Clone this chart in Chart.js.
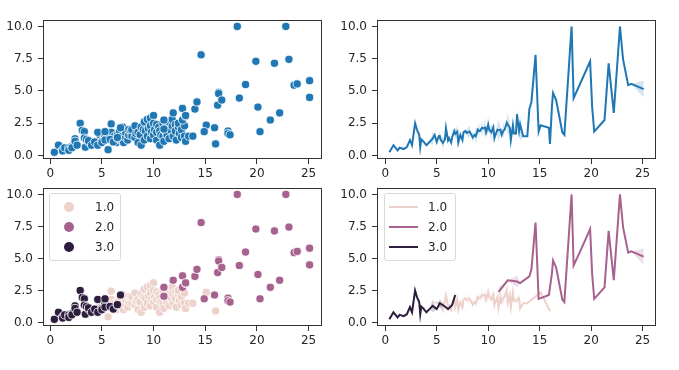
<!DOCTYPE html>
<html>
<head>
<meta charset="utf-8">
<script src="https://cdn.jsdelivr.net/npm/chart.js@4.4.1/dist/chart.umd.min.js"></script>
<style>
body{margin:0;width:679px;height:370px;background:#fff;position:relative;overflow:hidden;font-family:"DejaVu Sans",sans-serif;color:#262626}
canvas{position:absolute}
.legend{position:absolute;background:rgba(255,255,255,0.8);border:1px solid #d9d9d9;border-radius:3px;box-sizing:border-box}
.legend .row{position:absolute;left:0;height:20px;width:100%}
.legend .dot{position:absolute;width:10px;height:10px;border-radius:50%;top:5px;left:14px}
.legend .ln{position:absolute;height:2px;top:9px;left:4px;width:29px}
.legend .lbl{position:absolute;font-size:12px;line-height:20px;top:0}
</style>
</head>
<body>
<canvas id="tl" width="332" height="169" style="left:0;top:15px"></canvas>
<canvas id="tr" width="332" height="169" style="left:334px;top:15px"></canvas>
<canvas id="bl" width="332" height="168" style="left:0;top:183px"></canvas>
<canvas id="br" width="332" height="168" style="left:334px;top:183px"></canvas>
<div class="legend" id="legBL" style="left:49px;top:193px;width:72px;height:68px"></div>
<div class="legend" id="legBR" style="left:384px;top:193px;width:72px;height:68px"></div>
<script>
// hue levels
const hueLabels = ["1.0", "2.0", "3.0"];
const hueColors = ["#edd1cb", "#a7618f", "#2d1e3e"];
const plainColor = "#1f77b4";

const xTicks = [0, 5, 10, 15, 20, 25];
const yTicks = [0, 2.5, 5, 7.5, 10];

// hue 1.0
const g1X = [4.8, 5.2,5.2, 5.4, 5.6,5.6, 5.9,5.9, 6.1, 6.2,6.2, 6.4, 6.5,6.5, 6.7, 6.8, 7.0,7.0, 7.1, 7.3,7.3,
  7.5, 7.6,7.6, 7.8, 7.9,7.9, 8.2,8.2, 8.3, 8.5,8.5, 8.7, 8.8,8.8, 9.0, 9.1,9.1, 9.2, 9.4,9.4, 9.5,
  9.7,9.7,9.7, 9.8, 10.0,10.0,10.0, 10.1, 10.3,10.3,10.3, 10.5, 10.6,10.6, 10.7, 10.9,10.9, 11.0,
  11.2,11.2, 11.3, 11.5,11.5, 11.6, 11.8,11.8, 11.9, 12.1,12.1, 12.2, 12.4,12.4, 12.5, 12.7,12.7,
  13.0,13.0, 13.1, 13.4, 13.8, 15.1, 16.0];
const g1Y = [1.6, 1.3,1.7, 1.2, 0.45,1.5, 2.45,1.8, 1.3, 1.2,1.5, 1.0, 1.6,1.3, 1.9, 1.2, 2.2,1.5, 1.0, 1.4,1.8,
  1.2, 1.6,2.0, 1.9, 1.5,2.0, 2.3,1.4, 1.7, 1.0,1.8, 1.6, 0.8,2.2, 2.0, 2.6,1.2, 1.9, 2.8,1.5, 2.1,
  2.9,1.3,2.3, 1.8, 3.1,1.6,2.5, 2.0, 2.4,1.2,1.8, 2.2, 0.8,1.9, 1.6, 1.5,2.5, 1.1,
  1.8,2.2, 1.6, 1.3,2.6, 2.0, 2.3,2.8, 1.5, 2.4,1.9, 1.2, 2.2,2.5, 1.7, 1.4,2.0,
  2.3,1.5, 1.1, 1.5, 1.5, 2.35, 0.9];

// hue 2.0
const g2X = [11.0,11.0, 11.9, 12.8,12.8, 13.1,13.1, 14.0, 14.2, 14.6, 14.9, 15.9, 16.2, 16.3,16.3, 16.6,
  17.2,17.2, 17.4, 18.1, 18.3, 18.9, 19.9, 20.1, 20.3, 21.3, 21.7, 22.2, 22.8, 23.1, 23.6, 23.9, 25.1,25.1];
const g2Y = [2.75,2.05, 3.3, 3.65,2.75, 3.05,3.1, 3.6, 4.15, 7.8, 1.85, 2.15, 3.9, 4.9,4.8, 4.3,
  1.9,1.7, 1.6, 10.0, 4.45, 5.5, 7.3, 3.75, 1.85, 2.75, 7.15, 3.3, 10.0, 7.45, 5.45, 5.55, 5.8,4.5];

// hue 3.0
const g3X = [0.4, 0.8, 1.2,1.2, 1.4, 1.8,1.8, 2.1,2.1, 2.4,2.4, 2.6, 2.9, 3.1, 3.3,3.3, 3.4, 3.5, 3.7,3.7,
  4.0, 4.3, 4.6,4.6, 5.0,5.0, 5.3,5.3,5.3, 5.8, 6.1, 6.5,6.5, 6.8];
const g3Y = [0.25, 0.8, 0.45,0.35, 0.6, 0.6,0.4, 0.7,0.6, 1.3,1.1, 0.8, 2.5, 1.95, 1.85,1.35, 0.65, 1.25, 1.05,1.15,
  0.8, 1.05, 1.8,0.8, 1.1,1.0, 1.5,1.2,1.85, 1.25, 1.05, 1.35,1.4, 2.15];

const groupsX = [g1X, g2X, g3X];
const groupsY = [g1Y, g2Y, g3Y];
const allX = [].concat(g1X, g2X, g3X);
const allY = [].concat(g1Y, g2Y, g3Y);

function rgba(hex, a){
    let r = parseInt(hex.slice(1,3),16), g = parseInt(hex.slice(3,5),16), b = parseInt(hex.slice(5,7),16);
    return "rgba("+r+","+g+","+b+","+a+")";
}

// mean per x with a rough 95% band, like a lineplot does
function aggregate(xs, ys){
    let m = new Map();
    xs.forEach((x,i)=>{
        if(!m.has(x)) m.set(x, []);
        m.get(x).push(ys[i]);
    });
    return [...m.keys()].sort((a,b)=>a-b).map(x=>{
        let v = m.get(x), n = v.length;
        let mean = v.reduce((a,b)=>a+b,0)/n;
        let lo = mean, hi = mean;
        if(n>1){
            let sd = Math.sqrt(v.reduce((a,b)=>a+(b-mean)**2,0)/(n-1));
            let h = 1.96*sd/Math.sqrt(n);
            lo = Math.max(Math.min(...v), mean-h);
            hi = Math.min(Math.max(...v), mean+h);
        }
        return {x, mean, lo, hi};
    });
}

const frame = {
    id: 'frame',
    afterDatasetsDraw(chart){
        let a = chart.chartArea, ctx = chart.ctx;
        ctx.save();
        ctx.strokeStyle = "#333";
        ctx.lineWidth = 1;
        ctx.strokeRect(a.left+0.5, a.top+0.5, a.right-a.left-1, a.bottom-a.top-1);
        ctx.restore();
    }
};

function axes(xmin, xmax){
    let font = {family: "DejaVu Sans", size: 12};
    return {
        x: {
            type: 'linear', min: xmin, max: xmax,
            afterBuildTicks: s => { s.ticks = xTicks.map(v=>({value:v})); },
            afterFit: s => { s.height = 25; s.paddingLeft = 0; s.paddingRight = 0; },
            ticks: {font, color: "#262626", padding: 3, maxRotation: 0, callback: v => String(v)},
            grid: {drawOnChartArea: false, tickLength: 5, color: "#333"},
            border: {display: false}
        },
        y: {
            type: 'linear', min: -0.27, max: 10.5,
            afterBuildTicks: s => { s.ticks = yTicks.map(v=>({value:v})); },
            afterFit: s => { s.width = 43; s.paddingTop = 0; s.paddingBottom = 0; },
            ticks: {font, color: "#262626", padding: 5, callback: v => v.toFixed(1)},
            grid: {drawOnChartArea: false, tickLength: 5, color: "#333"},
            border: {display: false}
        }
    };
}

function makeChart(id, type, datasets, xmin, xmax){
    return new Chart(document.getElementById(id), {
        type: type,
        data: {datasets},
        options: {
            responsive: false, animation: false, devicePixelRatio: 1,
            layout: {padding: {left: 0, right: 10, top: 5, bottom: 0}},
            scales: axes(xmin, xmax),
            plugins: {legend: {display: false}, tooltip: {enabled: false}}
        },
        plugins: [frame]
    });
}

function scatterSet(xs, ys, color){
    return {
        data: xs.map((x,i)=>({x, y: ys[i]})),
        pointRadius: 4.1, pointBackgroundColor: color,
        pointBorderColor: "#fff", pointBorderWidth: 0.8
    };
}

function lineSets(xs, ys, color){
    let a = aggregate(xs, ys);
    return [
        {data: a.map(p=>({x:p.x, y:p.mean})), borderColor: color, borderWidth: 2, pointRadius: 0, fill: false, tension: 0},
        {data: a.map(p=>({x:p.x, y:p.hi})), borderWidth: 0, pointRadius: 0, backgroundColor: rgba(color, 0.2), fill: '+1'},
        {data: a.map(p=>({x:p.x, y:p.lo})), borderWidth: 0, pointRadius: 0, fill: false}
    ];
}

// top left: plain scatter
makeChart("tl", "scatter", [scatterSet(allX, allY, plainColor)], -0.7, 26.3);

// top right: aggregated line
makeChart("tr", "line", lineSets(allX, allY, plainColor), -0.8, 26.3);

// bottom left: scatter by hue
makeChart("bl", "scatter", [2,1,0].map(i=>scatterSet(groupsX[i], groupsY[i], hueColors[i])), -0.7, 26.3);

// bottom right: lines by hue
let brSets = [];
[2,1,0].forEach(i=>{ brSets = brSets.concat(lineSets(groupsX[i], groupsY[i], hueColors[i])); });
makeChart("br", "line", brSets, -0.8, 26.3);

// legends
function legend(id, kind){
    let box = document.getElementById(id);
    hueLabels.forEach((lab,i)=>{
        let row = document.createElement("div");
        row.className = "row";
        row.style.top = (3 + i*20) + "px";
        let mark = document.createElement("div");
        mark.className = kind;
        mark.style.background = hueColors[i];
        let t = document.createElement("div");
        t.className = "lbl";
        t.style.left = kind=="dot" ? "45px" : "43px";
        t.textContent = lab;
        row.append(mark, t);
        box.append(row);
    });
}
legend("legBL", "dot");
legend("legBR", "ln");
</script>
</body>
</html>
